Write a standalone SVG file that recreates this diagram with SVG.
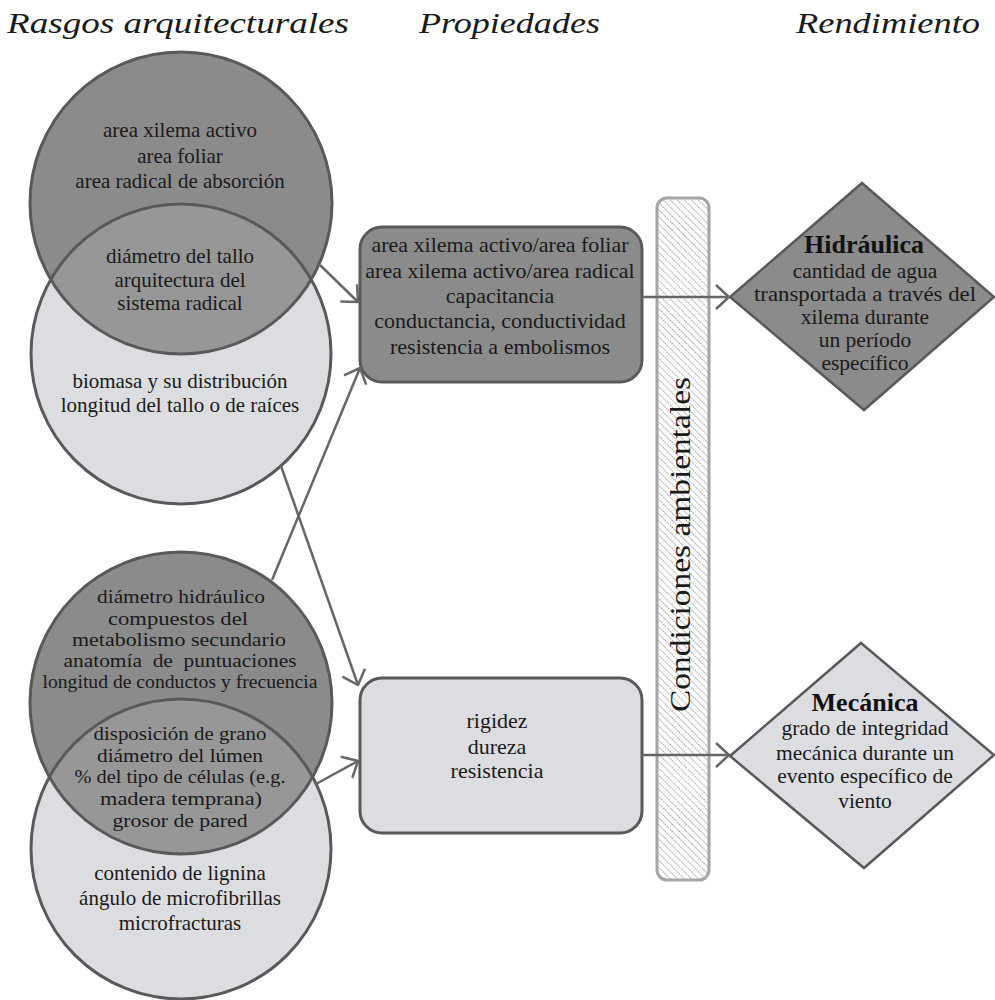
<svg xmlns="http://www.w3.org/2000/svg" width="995" height="1000" viewBox="0 0 995 1000">
<defs>
<style>
.hdr{font-family:"Liberation Serif","DejaVu Serif",serif;font-style:italic;font-size:30px;fill:#1a1a1a}
.t{font-family:"Liberation Serif","DejaVu Serif",serif;font-size:21px;fill:#1a1a1a;text-anchor:middle}
.ts{font-size:19px}
.tb{font-size:22px}
.td{font-size:21.5px}
.tt{font-family:"Liberation Serif","DejaVu Serif",serif;font-size:26px;font-weight:bold;fill:#111;text-anchor:middle}
.dark{fill:#8b8b8b}
.light{fill:#dcdde0}
.lens{fill:#979797}
.ol{fill:none;stroke:#595959;stroke-width:3}
.shape{stroke:#595959;stroke-width:3}
.conn{fill:none;stroke:#666;stroke-width:2.5;marker-end:url(#arr)}
</style>
<clipPath id="clipC2"><circle cx="181" cy="354" r="150"/></clipPath>
<clipPath id="clipC4"><circle cx="181" cy="849" r="150"/></clipPath>
<pattern id="hatch" width="5" height="5" patternUnits="userSpaceOnUse" patternTransform="rotate(-45)">
<line x1="2.5" y1="0" x2="2.5" y2="5" stroke="#9a9a9a" stroke-width="1" stroke-dasharray="1.5 1"/>
</pattern>
<marker id="arr" markerUnits="userSpaceOnUse" markerWidth="16" markerHeight="28" viewBox="0 0 16 28" refX="15" refY="14" orient="auto">
<path d="M2,2 L15,14 L2,26" fill="none" stroke="#666" stroke-width="2.5"/>
</marker>
</defs>
<rect width="995" height="1000" fill="#fff"/>

<g id="headers">
<text class="hdr" x="7" y="33" textLength="342" lengthAdjust="spacingAndGlyphs">Rasgos arquitecturales</text>
<text class="hdr" x="419" y="33" textLength="181" lengthAdjust="spacingAndGlyphs">Propiedades</text>
<text class="hdr" x="796" y="33" textLength="184" lengthAdjust="spacingAndGlyphs">Rendimiento</text>
</g>

<g id="venn-superior">
<circle class="dark" cx="181" cy="203" r="151"/>
<circle class="light" cx="181" cy="354" r="150"/>
<circle class="lens" cx="181" cy="203" r="151" clip-path="url(#clipC2)"/>
<circle class="ol" cx="181" cy="203" r="151"/>
<circle class="ol" cx="181" cy="354" r="150"/>
<g id="rasgos-area">
<text class="t" x="180" y="137">area xilema activo</text>
<text class="t" x="180" y="163">area foliar</text>
<text class="t" x="180" y="188">area radical de absorción</text>
</g>
<g id="rasgos-tallo">
<text class="t" x="180" y="263">diámetro del tallo</text>
<text class="t" x="180" y="287">arquitectura del</text>
<text class="t" x="180" y="310">sistema radical</text>
</g>
<g id="rasgos-biomasa">
<text class="t" x="180" y="388">biomasa y su distribución</text>
<text class="t" x="180" y="412">longitud del tallo o de raíces</text>
</g>
</g>

<g id="venn-inferior">
<circle class="dark" cx="181" cy="703" r="151"/>
<circle class="light" cx="181" cy="849" r="150"/>
<circle class="lens" cx="181" cy="703" r="151" clip-path="url(#clipC4)"/>
<circle class="ol" cx="181" cy="703" r="151"/>
<circle class="ol" cx="181" cy="849" r="150"/>
<g id="rasgos-anatomia">
<text class="t ts" x="181" y="603" textLength="168" lengthAdjust="spacingAndGlyphs">diámetro hidráulico</text>
<text class="t ts" x="178" y="624.5" textLength="140" lengthAdjust="spacingAndGlyphs">compuestos del</text>
<text class="t ts" x="179" y="646" textLength="214" lengthAdjust="spacingAndGlyphs">metabolismo secundario</text>
<text class="t ts" x="180" y="667" textLength="233" lengthAdjust="spacingAndGlyphs" xml:space="preserve">anatomía  de  puntuaciones</text>
<text class="t ts" x="180" y="688" textLength="275" lengthAdjust="spacingAndGlyphs">longitud de conductos y frecuencia</text>
</g>
<g id="rasgos-grano">
<text class="t ts" x="180" y="740" textLength="173" lengthAdjust="spacingAndGlyphs">disposición de grano</text>
<text class="t ts" x="180" y="761.5" textLength="166" lengthAdjust="spacingAndGlyphs">diámetro del lúmen</text>
<text class="t ts" x="180" y="783" textLength="211" lengthAdjust="spacingAndGlyphs">% del tipo de células (e.g.</text>
<text class="t ts" x="181" y="805" textLength="162" lengthAdjust="spacingAndGlyphs">madera temprana)</text>
<text class="t ts" x="180" y="827" textLength="135" lengthAdjust="spacingAndGlyphs">grosor de pared</text>
</g>
<g id="rasgos-lignina">
<text class="t" x="180" y="880">contenido de lignina</text>
<text class="t" x="180" y="905">ángulo de microfibrillas</text>
<text class="t" x="180" y="930">microfracturas</text>
</g>
</g>

<g id="condiciones">
<rect x="657" y="198" width="52" height="682" rx="10" fill="url(#hatch)" stroke="#a5a5a5" stroke-width="3"/>
<text class="t" transform="translate(690,544.5) rotate(-90)" textLength="335" lengthAdjust="spacingAndGlyphs" style="font-size:30px">Condiciones ambientales</text>
</g>

<g id="prop-hidraulicas">
<rect class="dark shape" x="360" y="227" width="282" height="155" rx="22"/>
<text class="t tb" x="500" y="252">area xilema activo/area foliar</text>
<text class="t tb" x="500" y="278">area xilema activo/area radical</text>
<text class="t tb" x="500" y="303">capacitancia</text>
<text class="t tb" x="500" y="328">conductancia, conductividad</text>
<text class="t tb" x="500" y="354">resistencia a embolismos</text>
</g>

<g id="prop-mecanicas">
<rect class="light shape" x="360" y="678" width="282" height="155" rx="22"/>
<text class="t tb" x="497" y="728">rigidez</text>
<text class="t tb" x="497" y="754">dureza</text>
<text class="t tb" x="497" y="778">resistencia</text>
</g>

<g id="rend-hidraulica">
<polygon class="dark" points="862,183 994,297 864,410 730,297" stroke="#595959" stroke-width="2.5"/>
<text class="tt" x="864" y="253">Hidráulica</text>
<text class="t td" x="865" y="278">cantidad de agua</text>
<text class="t td" x="865" y="301" textLength="222" lengthAdjust="spacingAndGlyphs">transportada a través del</text>
<text class="t td" x="865" y="324">xilema durante</text>
<text class="t td" x="865" y="347">un período</text>
<text class="t td" x="865" y="370">específico</text>
</g>

<g id="rend-mecanica">
<polygon class="light" points="861,643 994,755 864,868 730,756" stroke="#595959" stroke-width="2.5"/>
<text class="tt" x="865" y="711">Mecánica</text>
<text class="t td" x="865" y="735">grado de integridad</text>
<text class="t td" x="865" y="760">mecánica durante un</text>
<text class="t td" x="865" y="783">evento específico de</text>
<text class="t td" x="865" y="808">viento</text>
</g>

<g id="connectors">
<line class="conn" x1="320" y1="265" x2="358" y2="302"/>
<line class="conn" x1="272" y1="580" x2="360" y2="368"/>
<line class="conn" x1="281" y1="466" x2="358" y2="685"/>
<line class="conn" x1="316" y1="784" x2="358" y2="761"/>
<line class="conn" x1="642" y1="297" x2="729" y2="297"/>
<line class="conn" x1="642" y1="755" x2="729" y2="755"/>
</g>
</svg>
